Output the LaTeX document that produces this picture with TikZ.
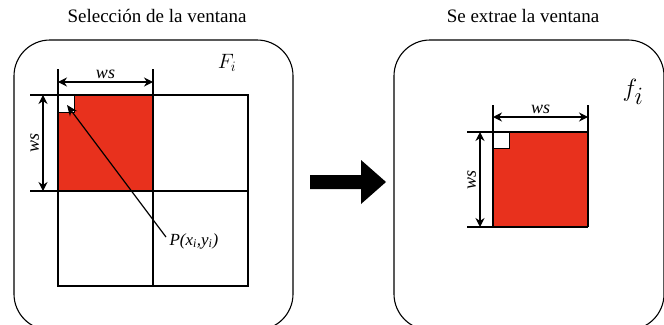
\documentclass[tikz,border=0pt]{standalone}
\usepackage{fontspec}
\setmainfont{Liberation Serif}
\usetikzlibrary{arrows.meta}
\definecolor{winred}{HTML}{E8311D}
\tikzset{
  frame/.style={line width=1.1pt, rounded corners=36pt},
  gridline/.style={line width=1.2pt},
  dimarrow/.style={line width=1.2pt, {Stealth[length=9pt,width=9pt]}-{Stealth[length=9pt,width=9pt]}},
  dimlabel/.style={font=\fontsize{18}{21}\selectfont\itshape},
}

\begin{document}
\begin{tikzpicture}[x=1pt, y=-1pt, >=Stealth]
    \useasboundingbox (0,0) rectangle (664,324);
    \clip (0,0) rectangle (664,324);

    % Titles
    \node[font=\fontsize{19}{22}\selectfont] (tsel) at (157,16) {Selección de la ventana};
    \node[font=\fontsize{19}{22}\selectfont] (text) at (523,16) {Se extrae la ventana};

    % Left frame: image F_i
    \draw[frame] (14,40) rectangle (293,330);
    \node[font=\fontsize{21}{24}\selectfont] (Fi) at (227,63) {$F_i$};

    % Window and grid
    \fill[winred] (58,95) rectangle (153,191);
    \fill[white] (58,95) rectangle (74,112);
    \draw[line width=0.8pt] (58,112) -| (74,95);
    \draw[gridline] (58,95) rectangle (248,286);
    \draw[gridline] (153,69) -- (153,286);
    \draw[gridline] (58,69) -- (58,95);
    \draw[gridline] (30,191) -- (248,191);
    \draw[gridline] (30,95) -- (58,95);

    % Dimensions
    \coordinate (la) at (58,82);
    \coordinate (lb) at (153,82);
    \coordinate (lc) at (43,95);
    \coordinate (ld) at (43,191);
    \draw[dimarrow] (la) -- (lb) node[midway, above=-1pt, dimlabel] {ws};
    \draw[dimarrow] (lc) -- (ld) node[midway, dimlabel, rotate=90, anchor=south] {ws};

    % Point P
    \node[font=\fontsize{17}{20}\selectfont\itshape, anchor=west] (P) at (166,241) {P(x\textsubscript{i},y\textsubscript{i})};
    \coordinate (pc) at (67,105);
    \draw[line width=1.2pt, -{Stealth[length=11pt,width=9pt]}] (166,237) -- (pc);

    % Big arrow
    \fill (310,175) -- (361,175) -- (361,160) -- (386,182) -- (361,204) -- (361,189) -- (310,189) -- cycle;

    % Right frame: extracted window f_i
    \draw[frame] (394,40) rectangle (664,330);
    \node[font=\fontsize{34}{38}\selectfont] (fi) at (633,92) {$f_i$};
    \fill[winred] (493,132) rectangle (588,227);
    \fill[white] (493,132) rectangle (509,148);
    \draw[line width=0.8pt] (493,148) -| (509,132);
    \draw[gridline] (493,105) -- (493,227);
    \draw[gridline] (588,105) -- (588,227);
    \draw[gridline] (467,132) -- (588,132);
    \draw[gridline] (467,227) -- (588,227);
    \coordinate (ra) at (493,117);
    \coordinate (rb) at (588,117);
    \coordinate (rc) at (480,132);
    \coordinate (rd) at (480,227);
    \draw[dimarrow] (ra) -- (rb) node[midway, above=-1pt, dimlabel] {ws};
    \draw[dimarrow] (rc) -- (rd) node[midway, dimlabel, rotate=90, anchor=south] {ws};
\end{tikzpicture}
\end{document}
